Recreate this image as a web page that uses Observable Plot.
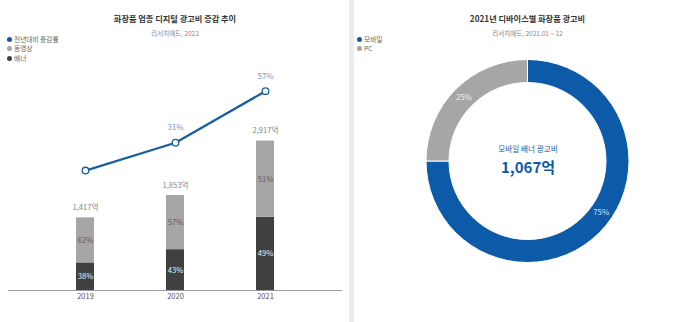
<!DOCTYPE html>
<html><head><meta charset="utf-8">
<script src="https://cdn.jsdelivr.net/npm/d3@7"></script>
<script src="https://cdn.jsdelivr.net/npm/@observablehq/plot@0.6"></script>
<style>
body{margin:0;background:#fff;font-family:"Noto Sans CJK KR","Noto Sans",sans-serif;}
#wrap{position:relative;width:700px;height:322px;overflow:hidden;background:#fff;}
.abs{position:absolute;}
.title{font-size:8.2px;font-weight:bold;color:#333;text-align:center;white-space:nowrap;line-height:10px;}
.sub{font-size:6.5px;color:#888;text-align:center;white-space:nowrap;line-height:8px;}
.leg{font-size:6.7px;color:#666;white-space:nowrap;line-height:8px;}
.ldot{display:inline-block;width:5px;height:5px;border-radius:50%;vertical-align:middle;margin-right:2px;position:relative;top:-0.5px;}
</style></head>
<body><div id="wrap"></div>
<script>
// ---- data ----
const years = ["2019", "2020", "2021"];
const totals = [1417, 1853, 2917];            // 억
const bannerShare = [38, 43, 49];             // %
const videoShare = [62, 57, 51];              // %
const yoyGrowth = [17, 31, 57];               // 전년대비 증감률 %
const yoyLabels = ["", "31%", "57%"];
const leftLegend = ["전년대비 증감률", "동영상", "배너"];
const deviceNames = ["모바일", "PC"];
const deviceShare = [75, 25];
const mobileBannerTotal = "1,067억";

const BLUE_LINE = "#1b5e9f", BLUE = "#0d5ba8", DARK = "#404040", GRAY = "#a6a6a6";
const font = '"Noto Sans CJK KR","Noto Sans",sans-serif';
const wrap = document.getElementById("wrap");

// separator
const sep = document.createElement("div");
sep.className = "abs"; sep.style.cssText = "left:349px;top:0;width:5px;height:322px;background:#ececf3;";
wrap.appendChild(sep);

function addText(cls, text, left, top, width) {
  const d = document.createElement("div");
  d.className = "abs " + cls;
  d.style.left = left + "px"; d.style.top = top + "px";
  if (width) d.style.width = width + "px";
  d.textContent = text;
  wrap.appendChild(d);
  return d;
}
function addLegend(items, colors, left, top) {
  items.forEach((t, i) => {
    const d = document.createElement("div");
    d.className = "abs leg";
    d.style.left = left + "px"; d.style.top = (top + i * 9.5) + "px";
    d.innerHTML = `<span class="ldot" style="background:${colors[i]}"></span>`;
    d.appendChild(document.createTextNode(t));
    wrap.appendChild(d);
  });
}

// ---- left panel ----
const rows = years.flatMap((y, i) => [
  {year: y, type: "배너", share: bannerShare[i], value: totals[i] * bannerShare[i] / 100},
  {year: y, type: "동영상", share: videoShare[i], value: totals[i] * videoShare[i] / 100}
]);
const totalRows = years.map((y, i) => ({year: y, total: totals[i]}));
const yoyRows = years.map((y, i) => ({year: y, g: yoyGrowth[i], label: yoyLabels[i]}));

const xOpts = {type: "band", domain: years, range: [8, 342], paddingInner: 0.8, paddingOuter: 0.736};

const barsPlot = Plot.plot({
  width: 350, height: 322,
  marginTop: 85, marginBottom: 32, marginLeft: 8, marginRight: 8,
  style: {fontFamily: font, fontSize: "7.5px", color: "#555", background: "transparent"},
  x: {...xOpts, label: null, tickSize: 0, tickPadding: 3},
  y: {domain: [0, 4000], range: [290, 85], axis: null},
  color: {domain: ["배너", "동영상"], range: [DARK, GRAY]},
  marks: [
    Plot.barY(rows, {x: "year", y: "value", fill: "type"}),
    Plot.text(rows, Plot.stackY({x: "year", y: "value", text: d => d.type === "배너" ? d.share + "%" : "", fill: "#eeeeee", fontSize: 7.6})),
    Plot.text(rows, Plot.stackY({x: "year", y: "value", text: d => d.type === "동영상" ? d.share + "%" : "", fill: "#606060", fontSize: 7.6})),
    Plot.text(totalRows, {x: "year", y: "total", text: d => d3.format(",")(d.total) + "억", dy: -10, fill: "#858585", fontSize: 7.6}),
    Plot.ruleY([0], {stroke: "#9a9a9a", strokeWidth: 1})
  ]
});
barsPlot.style.position = "absolute"; barsPlot.style.left = "0px"; barsPlot.style.top = "0px";
wrap.appendChild(barsPlot);

const linePlot = Plot.plot({
  width: 350, height: 322,
  marginTop: 0, marginBottom: 0, marginLeft: 8, marginRight: 8,
  style: {fontFamily: font, fontSize: "7.5px", background: "transparent"},
  x: {...xOpts, axis: null},
  y: {domain: [0, 60], range: [203.8, 84.7], axis: null},
  marks: [
    Plot.line(yoyRows, {x: "year", y: "g", stroke: BLUE_LINE, strokeWidth: 2.3}),
    Plot.dot(yoyRows, {x: "year", y: "g", r: 3.3, fill: "#ffffff", stroke: BLUE_LINE, strokeWidth: 1.3}),
    Plot.text(yoyRows, {x: "year", y: "g", text: "label", dy: -15, fill: "#6f98c6", fontSize: 7.8})
  ]
});
linePlot.style.position = "absolute"; linePlot.style.left = "0px"; linePlot.style.top = "0px";
wrap.appendChild(linePlot);

addText("title", "화장품 업종 디지털 광고비 증감 추이", 0, 13, 350);
addText("sub", "리서치애드, 2022", 0, 29, 350);
addLegend(leftLegend, [BLUE, GRAY, DARK], 7, 34.5);

// ---- right panel ----
const deviceRows = deviceNames.map((n, i) => ({name: n, share: deviceShare[i]}));
const donutColors = [BLUE, GRAY];

function donutMark(index, scales, values, dim) {
  const cx = dim.width / 2, cy = 161;
  const rOut = 101.5, rIn = 78.5;
  const pie = d3.pie().sort(null).value(d => d.share)(deviceRows);
  const arc = d3.arc().innerRadius(rIn).outerRadius(rOut);
  const g = d3.create("svg:g").attr("transform", `translate(${cx},${cy})`);
  g.selectAll("path").data(pie).join("path")
    .attr("d", arc).attr("fill", (d, i) => donutColors[i])
    .attr("stroke", "#fff").attr("stroke-width", 1);
  const rMid = (rIn + rOut) / 2;
  g.selectAll("text").data(pie).join("text")
    .attr("transform", (d, i) => {
      const a = i === 0 ? d.startAngle + (d.endAngle - d.startAngle) * 0.463 : (d.startAngle + d.endAngle) / 2;
      return `translate(${Math.sin(a) * rMid},${-Math.cos(a) * rMid})`;
    })
    .attr("text-anchor", "middle").attr("dy", "0.35em")
    .attr("font-size", 7.8).attr("fill", (d, i) => i === 0 ? "#cfe0f2" : "#f0f0f0")
    .text(d => d.data.share + "%");
  return g.node();
}

const donutPlot = Plot.plot({
  width: 345, height: 322, margin: 0,
  style: {fontFamily: font, background: "transparent"},
  x: {axis: null}, y: {axis: null},
  marks: [
    donutMark,
    Plot.text(["모바일 배너 광고비"], {frameAnchor: "middle", text: d => d, dy: -12, fill: BLUE, fontSize: 7.6}),
    Plot.text([mobileBannerTotal], {frameAnchor: "middle", text: d => d, dy: 6.5, fill: BLUE, fontSize: 15, fontWeight: "bold"})
  ]
});
donutPlot.style.position = "absolute"; donutPlot.style.left = "355px"; donutPlot.style.top = "0px";
wrap.appendChild(donutPlot);

addText("title", "2021년 디바이스별 화장품 광고비", 355, 13, 345);
addText("sub", "리서치애드, 2021.01 ~ 12", 355, 29, 345);
addLegend(deviceNames, donutColors, 357, 34.5);
</script></body></html>
